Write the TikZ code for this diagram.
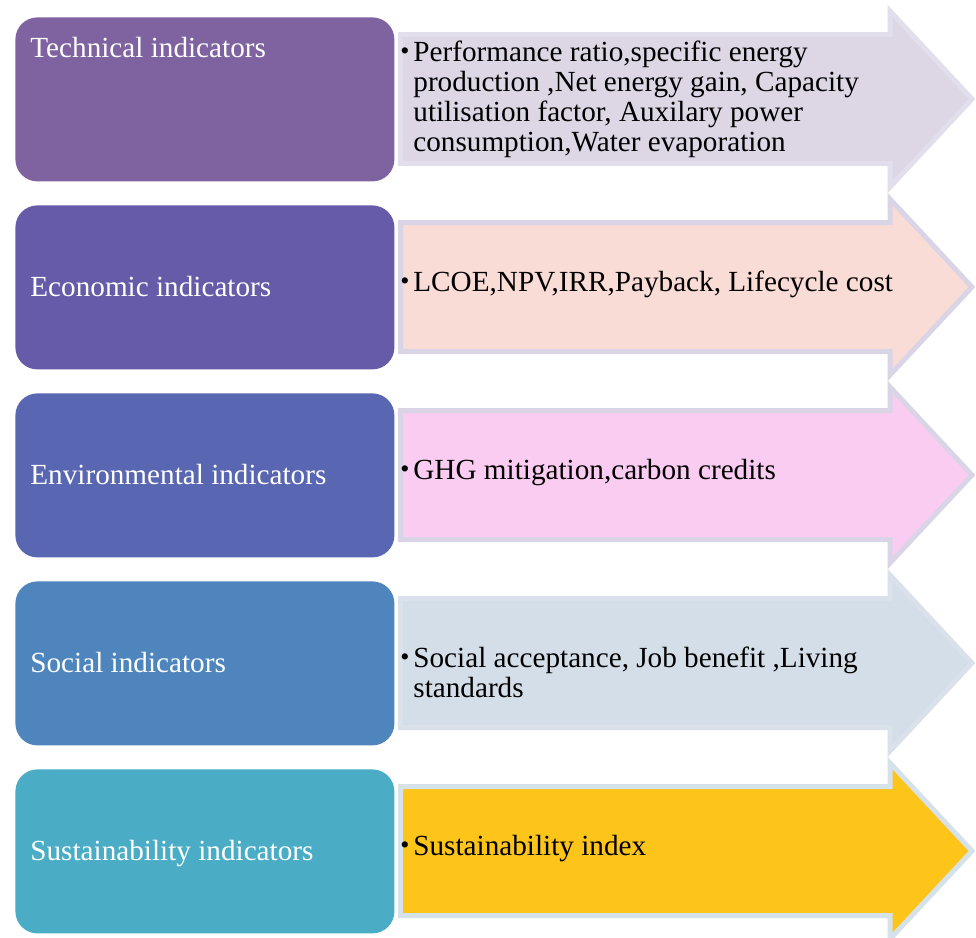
\documentclass[tikz,border=0pt]{standalone}
\usepackage{fontspec}
\setmainfont{Liberation Serif}
\usepackage{xcolor}

\definecolor{boxTech}{HTML}{7F63A0}
\definecolor{boxEcon}{HTML}{655BA9}
\definecolor{boxEnv}{HTML}{5966B1}
\definecolor{boxSoc}{HTML}{4F85BD}
\definecolor{boxSus}{HTML}{4AACC5}
\definecolor{arrTech}{HTML}{DCD6E5}
\definecolor{arrEcon}{HTML}{F9DCD5}
\definecolor{arrEnv}{HTML}{FACCF1}
\definecolor{arrSoc}{HTML}{D4DEE8}
\definecolor{arrSus}{HTML}{FDC419}
\definecolor{rimTech}{HTML}{E2DEEC}
\definecolor{rimLav}{HTML}{D9D5E7}
\definecolor{rimSoc}{HTML}{DAE1EB}
\definecolor{rimSus}{HTML}{D5E2E9}

\newcommand{\itemlines}[1]{\parbox[t]{260pt}{\raggedright #1}}
\newcommand{\smallbul}{\raisebox{0.6pt}{\fontsize{13pt}{13pt}\selectfont\textbullet}}

\tikzset{
  catbox/.style={anchor=north west,rounded corners=11pt,minimum width=189.5pt,minimum height=82pt,inner sep=0pt,draw=none},
  catlbl/.style={anchor=base west,inner sep=0pt,text=white},
  itemtxt/.style={anchor=base west,inner sep=0pt,text=black},
  arrowbody/.style={line width=2.5pt,line join=miter}
}

\begin{document}
\begin{tikzpicture}[x=0.5pt,y=-0.5pt,font=\fontsize{14.6pt}{15pt}\selectfont]
        \useasboundingbox (0,0) rectangle (976,938);

        % arrows behind
        \foreach \t/\fc/\rc in {17/arrTech/rimTech,205/arrEcon/rimLav,393/arrEnv/rimLav,581/arrSoc/rimSoc,769/arrSus/rimSus}
          \filldraw[arrowbody,fill=\fc,draw=\rc] (400.5,{\t+17.5})--(890,{\t+17.5})--(890,{\t-6})--(972,{\t+82})--(890,{\t+170})--(890,{\t+146.5})--(400.5,{\t+146.5})--cycle;

        % category boxes
        \foreach \t/\bc/\nm in {17/boxTech/tech,205/boxEcon/econ,393/boxEnv/env,581/boxSoc/soc,769/boxSus/sus}
          \node[catbox,fill=\bc] (\nm) at (15,\t) {};

        \node[catlbl] (techlbl) at (30,57) {Technical indicators};
        \node[catlbl] (econlbl) at (30,296) {Economic indicators};
        \node[catlbl] (envlbl) at (30,484) {Environmental indicators};
        \node[catlbl] (soclbl) at (30,672) {Social indicators};
        \node[catlbl] (suslbl) at (30,860) {Sustainability indicators};

        % bullet lists
        \node[itemtxt] (techbul) at (400,61) {\smallbul};
        \node[itemtxt] (techitems) at (413,61) {\itemlines{Performance ratio,specific energy\\production ,Net energy gain, Capacity\\utilisation factor, Auxilary power\\consumption,Water evaporation}};
        \node[itemtxt] (econbul) at (400,291) {\smallbul};
        \node[itemtxt] (econitems) at (413,291) {LCOE,NPV,IRR,Payback, Lifecycle cost};
        \node[itemtxt] (envbul) at (400,479) {\smallbul};
        \node[itemtxt] (envitems) at (413,479) {GHG mitigation,carbon credits};
        \node[itemtxt] (socbul) at (400,667) {\smallbul};
        \node[itemtxt] (socitems) at (413,667) {\itemlines{Social acceptance, Job benefit ,Living\\standards}};
        \node[itemtxt] (susbul) at (400,855) {\smallbul};
        \node[itemtxt] (susitems) at (413,855) {Sustainability index};
\end{tikzpicture}
\end{document}
